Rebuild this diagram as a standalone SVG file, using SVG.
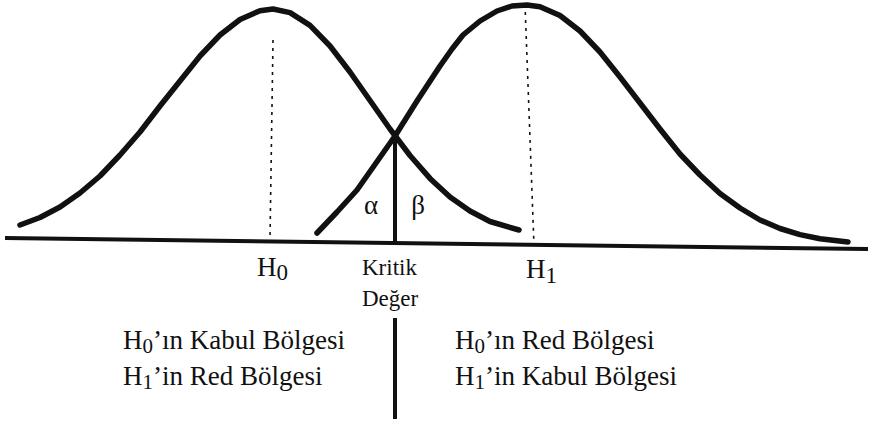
<svg xmlns="http://www.w3.org/2000/svg" width="872" height="424" viewBox="0 0 872 424">
<style>
.curve{fill:none;stroke:#111;stroke-width:5.5;stroke-linejoin:round;stroke-linecap:round}
.axis{stroke:#111;stroke-width:4;fill:none}
.guide{stroke:#111;stroke-width:1.6;stroke-dasharray:3 5;fill:none}
.bar{stroke:#111;stroke-width:4;fill:none}
text{font-family:"Liberation Serif","Times New Roman",serif;fill:#111}
.lbl{font-size:27px}
.sm{font-size:23px}
.reg{font-size:27px}
.greek{font-size:27px}
</style>
<rect width="872" height="424" fill="#fff"/>
<g id="axis">
<line class="axis" x1="5" y1="238" x2="868" y2="249"/>
</g>
<g id="curve-h0">
<polyline class="curve" points="20,225 40,217.5 60,207 80,193 100,176 120,155 140,132 160,106 180,81 200,56 220,35 240,19.5 260,10.7 273,9 290,12.6 310,25.4 330,46 350,72 370,100.5 390,129 410,155.5 430,178.4 450,197 470,211 490,221.5 519,230"/>
</g>
<g id="curve-h1">
<polyline class="curve" points="317,233 337,212 357,190 376,163 395,136 417,101 440,66 452,49 463,35 480,21 497,11 512,6 527,5 540,6.7 560,15.5 580,31 600,52 620,77 640,103 660,129 680,154 700,175 720,193.5 740,208 760,220 780,228.5 800,234.6 820,238.8 848,242"/>
</g>
<g id="guides">
<line class="guide" x1="273" y1="40" x2="270" y2="238"/>
<line class="guide" x1="525" y1="4" x2="534" y2="246"/>
</g>
<g id="critical">
<line class="bar" x1="395" y1="136" x2="395" y2="244"/>
<line class="bar" x1="395" y1="318" x2="395" y2="419"/>
</g>
<g id="areas">
<text class="greek" x="371" y="214" text-anchor="middle">α</text>
<text class="greek" x="418" y="214" text-anchor="middle">β</text>
</g>
<g id="label-h0">
<text class="lbl" x="257" y="276">H<tspan font-size="23" dy="4">0</tspan></text>
</g>
<g id="label-critical">
<text class="sm" x="362" y="275">Kritik</text>
<text class="sm" x="362" y="306">Değer</text>
</g>
<g id="label-h1">
<text class="lbl" x="526" y="278">H<tspan font-size="23" dy="5">1</tspan></text>
</g>
<g id="region-left">
<text class="reg" x="123" y="349">H<tspan font-size="21" dy="4">0</tspan><tspan dy="-4">’ın Kabul Bölgesi</tspan></text>
<text class="reg" x="123" y="385">H<tspan font-size="21" dy="4">1</tspan><tspan dy="-4">’in Red Bölgesi</tspan></text>
</g>
<g id="region-right">
<text class="reg" x="455" y="349">H<tspan font-size="21" dy="4">0</tspan><tspan dy="-4">’ın Red Bölgesi</tspan></text>
<text class="reg" x="455" y="385">H<tspan font-size="21" dy="4">1</tspan><tspan dy="-4">’in Kabul Bölgesi</tspan></text>
</g>
</svg>
